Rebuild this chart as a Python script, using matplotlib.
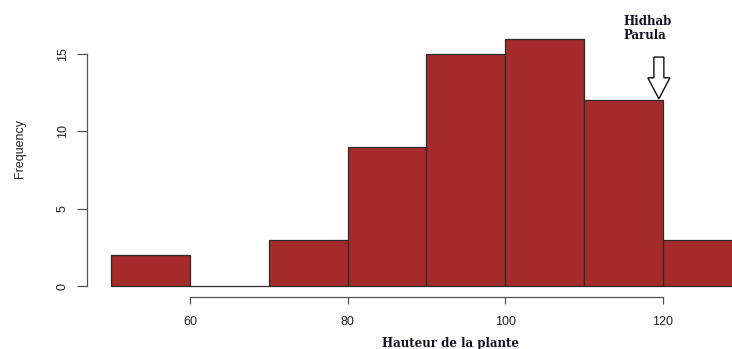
import matplotlib

matplotlib.use("Agg")
import matplotlib.pyplot as plt  # noqa: E402
from matplotlib.patches import FancyArrow  # noqa: E402

# histogram of plant height
bin_edges = [50, 60, 70, 80, 90, 100, 110, 120, 130]
counts = [2, 0, 3, 9, 15, 16, 12, 3]
x_ticks = [60, 80, 100, 120]
y_ticks = [0, 5, 10, 15]
marker_x = 120
marker_label = "Hidhab\nParula"

W, H = 732, 349
fig = plt.figure(figsize=(W / 100, H / 100), dpi=100)
ax = fig.add_axes([87 / W, (H - 297) / H, 1 - 87 / W, 297 / H])

widths = [b - a for a, b in zip(bin_edges[:-1], bin_edges[1:])]
ax.bar(bin_edges[:-1], counts, width=widths, align="edge",
       color="#A52A2A", edgecolor="#2b2b2b", linewidth=0.9)

# pixel-matched limits
ax.set_xlim(46.93, 128.78)
ax.set_ylim(-0.71, 18.49)

for s in ("top", "right"):
    ax.spines[s].set_visible(False)
ax.spines["left"].set_bounds(y_ticks[0], y_ticks[-1])
ax.spines["bottom"].set_bounds(x_ticks[0], x_ticks[-1])
for s in ("left", "bottom"):
    ax.spines[s].set_color("#555555")
    ax.spines[s].set_linewidth(0.9)

ax.set_xticks(x_ticks)
ax.set_yticks(y_ticks)
ax.tick_params(axis="both", colors="#555555", labelcolor="#222222",
               labelsize=9, width=0.9)
ax.tick_params(axis="y", length=7, pad=6, labelrotation=90)
ax.tick_params(axis="x", length=5, pad=9)
for lab in ax.get_xticklabels() + ax.get_yticklabels():
    lab.set_family("Liberation Sans")
for lab in ax.get_yticklabels():
    lab.set_va("center")

ax.set_ylabel("Frequency", fontsize=9, family="Liberation Sans",
              color="#222222", labelpad=22)
fig.text(450 / W, (H - 343) / H, "Hauteur de la plante", ha="center",
         va="center", fontsize=8.5, family="DejaVu Serif",
         fontweight="bold", color="#111122")

# hollow arrow marking the variety
ytop = counts[bin_edges.index(marker_x) - 1]
ax.add_patch(FancyArrow(marker_x - 0.5, ytop + 2.8, 0, -2.7, width=1.27,
                        head_width=2.8, head_length=1.36,
                        length_includes_head=True, facecolor="white",
                        edgecolor="#111111", linewidth=1.0, zorder=4))
ax.text(marker_x - 5.0, ytop + 4.65, marker_label, ha="left", va="center",
        multialignment="left", fontsize=8.5, family="DejaVu Serif",
        fontweight="bold", color="#111122", linespacing=1.1)

fig.savefig("out.png", dpi=100)
